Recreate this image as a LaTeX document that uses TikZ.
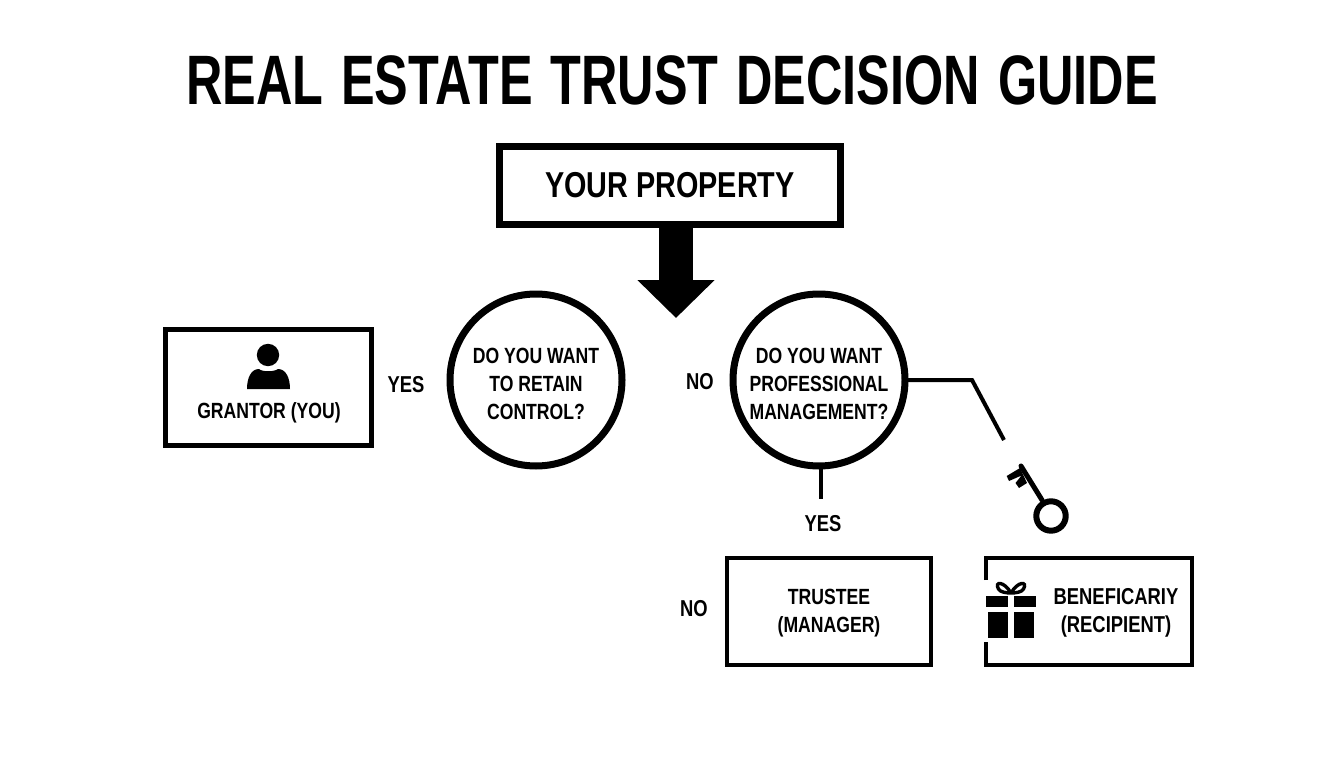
\documentclass[tikz,border=0pt]{standalone}
\usepackage{fontspec}
\setmainfont{Liberation Sans}[BoldFont={Liberation Sans Bold}]
\newfontfamily\cond{Liberation Sans Bold}[FakeStretch=0.8]
\newfontfamily\condt{Liberation Sans Bold}[FakeStretch=0.72]
\usetikzlibrary{arrows.meta}
\newcommand{\fsz}[1]{\fontsize{#1}{28}\selectfont}
\tikzset{
  x=1pt,y=-1pt,
  every node/.style={inner sep=0pt,outer sep=0pt,font=\cond,text=black},
  boxa/.style={draw=black,line width=4.5pt,fill=white,minimum width=206pt,minimum height=116pt},
  boxb/.style={draw=black,line width=4pt,fill=white,minimum width=204pt,minimum height=107pt,align=center},
  qcircle/.style={draw=black,line width=7pt,circle,fill=white,minimum size=#1,align=center},
  lab/.style={font=\cond\fsz{23}},
  small/.style={font=\cond\fsz{22},align=center},
  conn/.style={draw=black,line width=4pt},
  icon/.style={fill=black,draw=none}
}
\begin{document}
\begin{tikzpicture}
\useasboundingbox (0,0) rectangle (1344,768);
\fill[white] (0,0) rectangle (1344,768);
\node[font=\condt\fontsize{70}{70}\selectfont] (title) at (672,80) {\spaceskip 18pt REAL ESTATE TRUST DECISION GUIDE};
\node[draw=black,line width=7pt,fill=white,minimum width=341pt,minimum height=78pt,font=\cond\fontsize{36}{36}\selectfont] (prop) at (670,185.5) {YOUR PROPERTY};
\coordinate (tip) at (676,318);
\node[qcircle=172pt] (q1) at (536,380) {};
\node[small] (q1t) at (536,384) {DO YOU WANT\\TO RETAIN\\CONTROL?};
\node[qcircle=172pt] (q2) at (819,380) {};
\node[small] (q2t) at (819,384) {DO YOU WANT\\PROFESSIONAL\\MANAGEMENT?};
\draw[line width=34pt,-{Triangle[width=75pt,length=38pt]}] (prop.south -| tip) -- (tip);
\node[boxa] (grantor) at (268.5,387.5) {};
\node[small] (grantort) at (269,413) {GRANTOR (YOU)};
\node[lab] (yes1) at (406,385) {YES};
\node[lab] (no1) at (700,382) {NO};
\coordinate (bend) at (972,380);
\coordinate (end) at (1004,440);
\draw[conn,line join=miter] (q2.east) -- (bend) -- (end);
\coordinate (stem) at (821,499);
\draw[conn] (q2.south -| stem) -- (stem);
\node[lab] (yes2) at (823,524) {YES};
\node[lab] (no2) at (694,609) {NO};
\node[boxb] (trustee) at (828.5,611) {};
\node[small] (trusteet) at (829,613) {TRUSTEE\\(MANAGER)};
\node[boxb,draw=none,fill=none] (benef) at (1089,611) {};
\draw[conn] (985.5,580) -- (985.5,557.5) -- (1192,557.5) -- (1192,665) -- (985.5,665) -- (985.5,642);
\node[small,font=\cond\fsz{23}] (beneft) at (1116,613) {BENEFICARIY\\(RECIPIENT)};
% person
\fill[icon] (268,355) circle (11.2);
\fill[icon] (247,389) .. controls (247,378) and (251,369) .. (259,369) .. controls (262,372) and (274,372) .. (278,369) .. controls (286,369) and (290,378) .. (290,389) -- cycle;
% gift
\fill[icon] (986,595.5) rectangle (1008,607);
\fill[icon] (1014,595.5) rectangle (1036,607);
\fill[icon] (988,612) rectangle (1008,638);
\fill[icon] (1014,612) rectangle (1034,638);
\draw[line width=3.4pt] (1011,593) .. controls (1004,581) and (994,581) .. (998.5,589) .. controls (1000,592) and (1006,593) .. (1011,593) .. controls (1016,593) and (1022,592) .. (1023.5,589) .. controls (1028,581) and (1018,581) .. (1011,593);
% key
\draw[line width=6pt] (1051,516) circle (14.7);
\draw[line width=5pt,line cap=round] (1042,500) -- (1021,466);
\fill[icon] (1020,468) -- (1006.7,476) -- (1009,481) -- (1021.5,475.5) -- (1015.5,483) -- (1019,488) -- (1027,483) -- cycle;
\end{tikzpicture}
\end{document}
